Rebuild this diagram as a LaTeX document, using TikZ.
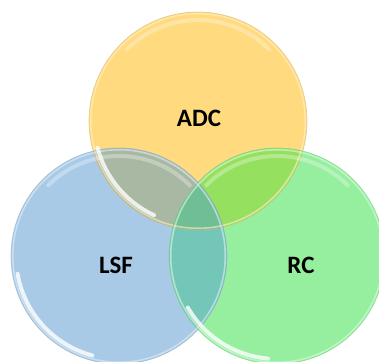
\documentclass[tikz,border=0pt]{standalone}
\usepackage{fontspec}
\setmainfont{Carlito}
\usepackage{xcolor}
\usepackage{tikz}
\usetikzlibrary{calc}
\definecolor{adcfill}{RGB}{255,218,127}
\definecolor{lsffill}{RGB}{169,202,231}
\definecolor{rcfill}{RGB}{149,239,159}
\definecolor{adclsf}{RGB}{169,184,163}
\definecolor{adcrc}{RGB}{150,224,96}
\definecolor{lsfrc}{RGB}{116,199,184}
\definecolor{allthree}{RGB}{112,190,150}

\begin{document}
\begin{tikzpicture}[x=1pt,y=-1pt,
	rim/.style={line width=0.7pt,opacity=0.6},
	gloss/.style={white,line width=4pt,line cap=round,opacity=0.8},
	shine/.style={white,line width=4pt,line cap=round,opacity=0.3},
	label/.style={font=\bfseries\fontsize{25}{25}\selectfont,text=black}]
	\useasboundingbox (0,0) rectangle (379,361);
	\clip (0,0) rectangle (379,361);
	\coordinate (ca) at (198,121);
	\coordinate (cl) at (119,256);
	\coordinate (cr) at (277,256);
	
	% circles
	\fill[adcfill] (ca) circle (109);
	\fill[lsffill] (cl) circle (108);
	\fill[rcfill] (cr) circle (108);
	
	% overlaps
	\begin{scope}
		\clip (ca) circle (109);
		\fill[adclsf] (cl) circle (108);
		\fill[adcrc] (cr) circle (108);
	\end{scope}
	\begin{scope}
		\clip (cl) circle (108);
		\fill[lsfrc] (cr) circle (108);
		\clip (ca) circle (109);
		\fill[allthree] (cr) circle (108);
	\end{scope}
	
	% rims
	\draw[rim,color=adcfill!85!black] (ca) circle (109);
	\draw[rim,color=adcfill!45!white,line width=1.6pt] (ca) circle (107.3);
	\draw[rim,color=lsffill!85!black] (cl) circle (108);
	\draw[rim,color=lsffill!35!white,line width=1.6pt] (cl) circle (106.3);
	\draw[rim,color=rcfill!85!black] (cr) circle (108);
	\draw[rim,color=rcfill!35!white,line width=1.6pt] (cr) circle (106.3);
	
	% highlights
	\draw[shine] ($(ca)+(225:101)$) arc (225:315:101);
	\draw[gloss] ($(ca)+(115:104)$) arc (115:165:104);
	\draw[shine] ($(cl)+(225:100)$) arc (225:315:100);
	\draw[gloss] ($(cl)+(105:103)$) arc (105:170:103);
	\draw[shine] ($(cr)+(225:100)$) arc (225:315:100);
	\draw[gloss] ($(cr)+(95:103)$) arc (95:150:103);
	
	\node[label] (adc) at (199,118) {ADC};
	\node[label] (lsf) at (116,265) {LSF};
	\node[label] (rc) at (301,265) {RC};
\end{tikzpicture}
\end{document}
